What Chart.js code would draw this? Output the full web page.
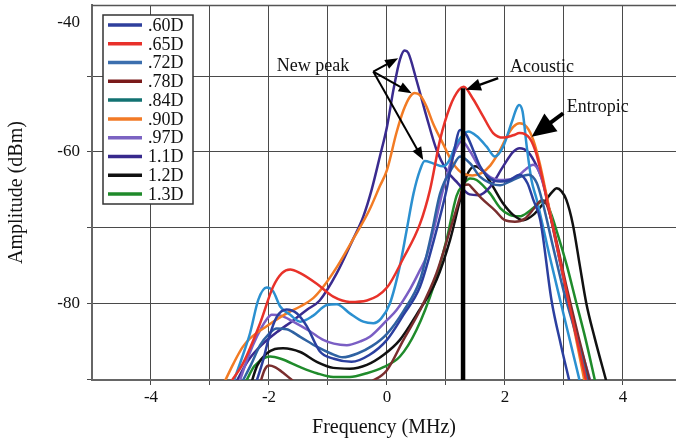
<!DOCTYPE html>
<html><head><meta charset="utf-8">
<script src="https://cdn.jsdelivr.net/npm/chart.js@4.4.0/dist/chart.umd.min.js"></script>
<style>html,body{margin:0;padding:0;background:#fff;overflow:hidden}canvas{display:block}</style>
</head><body>
<canvas id="c" width="676" height="441"></canvas>
<script>
// ---- data: [frequency MHz, amplitude dBm] ----
const seriesLabels = ['.60D','.65D','.72D','.78D','.84D','.90D','.97D','1.1D','1.2D','1.3D'];
const s60 = [[-2.22,-90.5],[-2.1,-87.5],[-2.0,-84.5],[-1.87,-81.8],[-1.7,-80.8],[-1.53,-81.3],[-1.36,-83],[-1.14,-86.3],[-0.9,-87.3],[-0.6,-87.7],[-0.3,-86.8],[0,-84.8],[0.28,-81.5],[0.56,-77.8],[0.8,-71.5],[1.01,-65],[1.12,-60.6],[1.24,-57.1],[1.35,-57.8],[1.46,-59.7],[1.58,-61.9],[1.75,-63.5],[1.92,-63.9],[2.08,-63.7],[2.25,-63],[2.38,-64.1],[2.48,-66.3],[2.6,-69],[2.79,-79.6],[2.95,-85.5],[3.1,-90.5]];
const s65 = [[-2.64,-90.3],[-2.44,-87.9],[-2.15,-82.6],[-1.93,-77.8],[-1.78,-76],[-1.64,-75.5],[-1.47,-76],[-1.19,-77.4],[-0.91,-79.1],[-0.63,-79.8],[-0.34,-79.6],[0,-77.9],[0.28,-74],[0.56,-69.5],[0.73,-65],[0.9,-58.4],[1.07,-54],[1.22,-51.8],[1.3,-51.4],[1.46,-53],[1.63,-55.3],[1.8,-57.5],[1.97,-58.1],[2.14,-57.8],[2.25,-57.5],[2.42,-58.2],[2.53,-60.2],[2.64,-63.7],[2.71,-66.3],[2.9,-73],[3.1,-80.5],[3.38,-90.3]];
const s72 = [[-2.45,-90.3],[-2.3,-88],[-2.15,-85.5],[-2.0,-84],[-1.87,-83.3],[-1.7,-83.4],[-1.47,-84.4],[-1.19,-85.7],[-0.95,-86.6],[-0.75,-87.1],[-0.5,-86.6],[-0.25,-85.6],[0,-84],[0.28,-81],[0.56,-76.9],[0.75,-71],[0.9,-65.5],[1.12,-61.9],[1.24,-60.6],[1.41,-61.5],[1.58,-63.3],[1.75,-64.1],[1.92,-64.4],[2.08,-63.9],[2.25,-63.3],[2.4,-63],[2.54,-64.1],[2.65,-67],[2.8,-72],[3.0,-78.5],[3.2,-84],[3.4,-90.3]];
const s78 = [[-2.15,-90.5],[-2.07,-88.7],[-2.0,-88.2],[-1.9,-88.4],[-1.75,-89.2],[-1.55,-90.5],[-1,null],[-0.3,-90.5],[0,-88.8],[0.28,-84.8],[0.56,-80.9],[0.84,-76],[1.07,-70.3],[1.24,-65.9],[1.3,-64.4],[1.38,-64.3],[1.45,-64.8],[1.6,-66.1],[1.83,-67.7],[2.0,-69],[2.17,-69.2],[2.34,-68.8],[2.5,-67.4],[2.62,-66.4],[2.7,-66.8],[2.85,-71],[3.05,-78],[3.25,-84.5],[3.44,-90.3]];
const s84 = [[-2.6,-90.3],[-2.45,-87],[-2.32,-83.9],[-2.18,-79.5],[-2.04,-77.9],[-1.93,-78.4],[-1.81,-80.4],[-1.64,-81.5],[-1.47,-82.4],[-1.25,-81.6],[-1.02,-80.2],[-0.85,-80.1],[-0.63,-81.3],[-0.4,-82.4],[-0.23,-82.6],[-0.1,-82],[0.05,-80],[0.22,-75],[0.33,-70.5],[0.45,-65.5],[0.56,-62.4],[0.64,-61.2],[0.78,-61.5],[0.95,-61.9],[1.05,-61.2],[1.18,-58.9],[1.38,-57.3],[1.52,-57.9],[1.69,-59.3],[1.83,-60.6],[1.97,-59.3],[2.11,-56.2],[2.2,-54.2],[2.24,-53.8],[2.3,-54.7],[2.37,-59.3],[2.45,-63.7],[2.54,-66.3],[2.75,-73.5],[2.95,-80],[3.27,-90.3]];
const s90 = [[-2.75,-90.3],[-2.6,-87.9],[-2.45,-85.8],[-2.32,-84.6],[-2.04,-83],[-1.7,-81.3],[-1.47,-80.4],[-1.25,-79.3],[-1.1,-78],[-0.85,-75.2],[-0.58,-71.6],[-0.3,-67.7],[-0.12,-64.5],[0,-62.4],[0.16,-57.5],[0.28,-54.5],[0.39,-52.7],[0.47,-52.2],[0.56,-52.5],[0.67,-54],[0.78,-56.2],[0.95,-58.9],[1.12,-61.5],[1.3,-62.9],[1.45,-63.1],[1.6,-62.8],[1.75,-61.8],[1.9,-60],[2.03,-58],[2.14,-56.7],[2.25,-56.2],[2.37,-56.7],[2.48,-58.4],[2.59,-61.5],[2.7,-65.5],[2.9,-73],[3.1,-80.5],[3.35,-90.3]];
const s97 = [[-2.5,-90.3],[-2.35,-87],[-2.2,-84.3],[-2.05,-82.2],[-1.95,-81.5],[-1.8,-81.6],[-1.59,-82.4],[-1.3,-83.7],[-1.08,-84.8],[-0.9,-85.3],[-0.68,-85.5],[-0.45,-85],[-0.29,-84.4],[0,-82.2],[0.16,-80.9],[0.4,-78],[0.56,-75.6],[0.67,-73.8],[0.8,-70],[0.95,-65],[1.1,-61],[1.27,-58.6],[1.4,-59.8],[1.55,-61.8],[1.75,-63.3],[1.97,-63.7],[2.2,-63.3],[2.35,-62.3],[2.48,-61.7],[2.6,-63],[2.75,-67.5],[2.95,-75],[3.15,-82],[3.45,-90.3]];
const s110 = [[-2.55,-90.3],[-2.35,-87.5],[-2.1,-85.3],[-1.87,-83.8],[-1.6,-82.3],[-1.35,-80.8],[-1.14,-79.6],[-0.85,-76],[-0.58,-71.6],[-0.4,-68.5],[-0.26,-65],[-0.12,-60.6],[0,-56.7],[0.11,-51.8],[0.22,-47.8],[0.3,-46.6],[0.36,-46.9],[0.5,-50.5],[0.67,-55.3],[0.84,-59.7],[1.01,-62.4],[1.2,-64.1],[1.4,-65.6],[1.55,-65.7],[1.75,-64.6],[1.97,-61.9],[2.14,-60],[2.25,-59.5],[2.39,-60],[2.54,-61.9],[2.65,-64.1],[2.8,-69.5],[3.0,-77],[3.2,-83.8],[3.42,-90.3]];
const s120 = [[-2.32,-91],[-2.2,-88.2],[-2.04,-86.6],[-1.9,-86],[-1.76,-85.9],[-1.47,-86.4],[-1.19,-87.7],[-0.91,-88.5],[-0.63,-88.6],[-0.34,-88.1],[-0.06,-86.8],[0.22,-84.8],[0.5,-81.5],[0.84,-76.9],[1.07,-71.6],[1.24,-66.3],[1.35,-63.2],[1.49,-61.9],[1.63,-62.6],[1.8,-64.6],[1.97,-66.8],[2.14,-68.3],[2.31,-69],[2.48,-68.3],[2.65,-66.8],[2.8,-65.3],[2.88,-64.8],[2.96,-65.2],[3.04,-66.3],[3.15,-69.5],[3.27,-75],[3.38,-80],[3.52,-84.5],[3.72,-90.3]];
const s130 = [[-2.39,-90.3],[-2.25,-88.3],[-2.1,-87.3],[-1.98,-87],[-1.8,-87.3],[-1.47,-88.4],[-1.19,-89.2],[-0.91,-89.7],[-0.63,-89.7],[-0.34,-89.2],[-0.06,-88.4],[0.22,-87],[0.5,-83.5],[0.8,-77.5],[1.01,-71.6],[1.18,-65.8],[1.3,-64.2],[1.41,-63.5],[1.52,-63.7],[1.75,-65.5],[1.92,-67.4],[2.08,-68.3],[2.25,-68.5],[2.4,-67.9],[2.54,-67],[2.65,-66.4],[2.75,-67.5],[2.9,-71],[3.05,-75],[3.2,-79.6],[3.37,-84.8],[3.53,-90.3]];
const seriesData = [s60,s65,s72,s78,s84,s90,s97,s110,s120,s130];
const acousticLine = [[1.29,-90.1],[1.29,-51.6]];

const xTickValues = [-4,-3,-2,-1,0,1,2,3,4];
const xTickLabels = ['-4','','-2','','0','','2','','4'];
const yTickValues = [-90,-80,-70,-60,-50,-42.95];
const yTickLabels = ['','-80','','-60','','-40'];

// ---- styles ----
const lineColors = ['#2B3F9F','#E8322A','#2F62A2','#7A2E2E','#2B90D0','#F27B24','#7A5EC4','#3A2B8F','#111111','#1F8B2B'];
const legendColors = ['#2E3F9C','#E8302A','#3C6FAE','#7A1A1A','#127272','#F27A26','#7B63C2','#37298C','#111111','#1F8A2A'];
const SERIF = '"Liberation Serif","DejaVu Serif",serif';

const notes = [
  {text:'New peak', f:-1.254, a:-48.63, align:'center'},
  {text:'Acoustic', f:2.085, a:-48.77, align:'left'},
  {text:'Entropic', f:3.05, a:-54.05, align:'left'}
];
const arrows = [
  {from:[-0.232,-49.39], to:[0.19,-47.62], w:2, hl:13, hw:5},
  {from:[-0.232,-49.39], to:[0.419,-52.24], w:2, hl:13, hw:5},
  {from:[-0.232,-49.39], to:[0.615,-61.06], w:2, hl:13, hw:5},
  {from:[1.886,-50.26], to:[1.339,-51.8], w:2.5, hl:15, hw:6},
  {from:[2.988,-54.89], to:[2.453,-57.98], w:4, hl:24, hw:11}
];

const datasets = seriesData.map((d,i)=>({
  label: seriesLabels[i],
  data: d.map(p=>({x:p[0], y:p[1]})),
  borderColor: lineColors[i],
  borderWidth: 2.5,
  pointRadius: 0,
  cubicInterpolationMode: 'monotone',
  fill: false,
  order: 1
}));
datasets.push({
  label: 'acoustic', isMarker: true,
  data: acousticLine.map(p=>({x:p[0], y:p[1]})),
  borderColor: '#000', borderWidth: 4.5, pointRadius: 0, order: -1
});

function drawArrow(ctx, x1, y1, x2, y2, w, hl, hw){
  const dx = x2-x1, dy = y2-y1, L = Math.hypot(dx,dy), ux = dx/L, uy = dy/L;
  const bx = x2 - ux*hl, by = y2 - uy*hl;
  ctx.lineWidth = w; ctx.strokeStyle = '#000'; ctx.fillStyle = '#000';
  ctx.beginPath(); ctx.moveTo(x1,y1); ctx.lineTo(bx+ux*2,by+uy*2); ctx.stroke();
  ctx.beginPath(); ctx.moveTo(x2,y2);
  ctx.lineTo(bx - uy*hw, by + ux*hw);
  ctx.lineTo(bx + uy*hw, by - ux*hw);
  ctx.closePath(); ctx.fill();
}

const overlay = {
  id: 'overlay',
  afterDraw(chart){
    const {ctx, chartArea:a, scales:{x,y}} = chart;
    ctx.save();
    ctx.strokeStyle = '#555'; ctx.lineWidth = 1.5;
    ctx.beginPath(); ctx.moveTo(a.left, a.top+0.5); ctx.lineTo(a.right, a.top+0.5); ctx.stroke();
    arrows.forEach(r=>drawArrow(ctx, x.getPixelForValue(r.from[0]), y.getPixelForValue(r.from[1]),
      x.getPixelForValue(r.to[0]), y.getPixelForValue(r.to[1]), r.w, r.hl, r.hw));
    ctx.fillStyle = '#111'; ctx.font = '18px ' + SERIF; ctx.textBaseline = 'middle';
    notes.forEach(n=>{ ctx.textAlign = n.align; ctx.fillText(n.text, x.getPixelForValue(n.f), y.getPixelForValue(n.a)); });
    // legend
    const x0 = a.left + 11, y0 = a.top + 10, w = 90, h = 189;
    ctx.fillStyle = '#fff'; ctx.fillRect(x0, y0, w, h);
    ctx.strokeStyle = '#333'; ctx.lineWidth = 1.5; ctx.strokeRect(x0, y0, w, h);
    ctx.font = '18px ' + SERIF; ctx.textAlign = 'left'; ctx.textBaseline = 'middle';
    seriesLabels.forEach((lab,i)=>{
      const yy = y0 + 10 + i*18.78;
      ctx.strokeStyle = legendColors[i]; ctx.lineWidth = 3.5;
      ctx.beginPath(); ctx.moveTo(x0+5, yy); ctx.lineTo(x0+39, yy); ctx.stroke();
      ctx.fillStyle = '#111'; ctx.fillText(lab, x0+45, yy+1);
    });
    ctx.restore();
  }
};

new Chart(document.getElementById('c'), {
  type: 'line',
  data: { datasets },
  options: {
    responsive: false, animation: false, devicePixelRatio: 1,
    layout: { padding: { top: 5, right: 0, left: 0, bottom: 0 } },
    plugins: { legend: { display: false }, tooltip: { enabled: false } },
    scales: {
      x: {
        type: 'linear', min: -5, max: 4.9,
        afterBuildTicks: s => { s.ticks = xTickValues.map(v=>({value:v})); },
        afterFit: s => { s.height = 61; s.paddingLeft = 0; s.paddingRight = 0; },
        ticks: { autoSkip: false, maxRotation: 0, padding: 2, color: '#111',
          font: { family: SERIF, size: 17 },
          callback: (v, i) => xTickLabels[i] },
        grid: { color: '#4a4a4a', lineWidth: 1, tickLength: 5 },
        border: { color: '#666', width: 2 },
        title: { display: true, text: 'Frequency (MHz)', color: '#111',
          font: { family: SERIF, size: 20 }, padding: { top: 0, bottom: 1 } }
      },
      y: {
        type: 'linear', min: -90.1, max: -40.6,
        afterBuildTicks: s => { s.ticks = yTickValues.map(v=>({value:v})); },
        afterFit: s => { s.width = 92; s.paddingTop = 0; s.paddingBottom = 0; },
        ticks: { autoSkip: false, padding: 7, color: '#111',
          font: { family: SERIF, size: 17 },
          callback: (v, i) => yTickLabels[i] },
        grid: { color: c => (c.index === 5 ? 'rgba(0,0,0,0)' : '#4a4a4a'), lineWidth: 1, tickLength: 5 },
        border: { color: '#666', width: 2 },
        title: { display: true, text: 'Amplitude (dBm)', color: '#111',
          font: { family: SERIF, size: 20 }, padding: { top: 5, bottom: 0 } }
      }
    }
  },
  plugins: [overlay]
});
</script>
</body></html>
